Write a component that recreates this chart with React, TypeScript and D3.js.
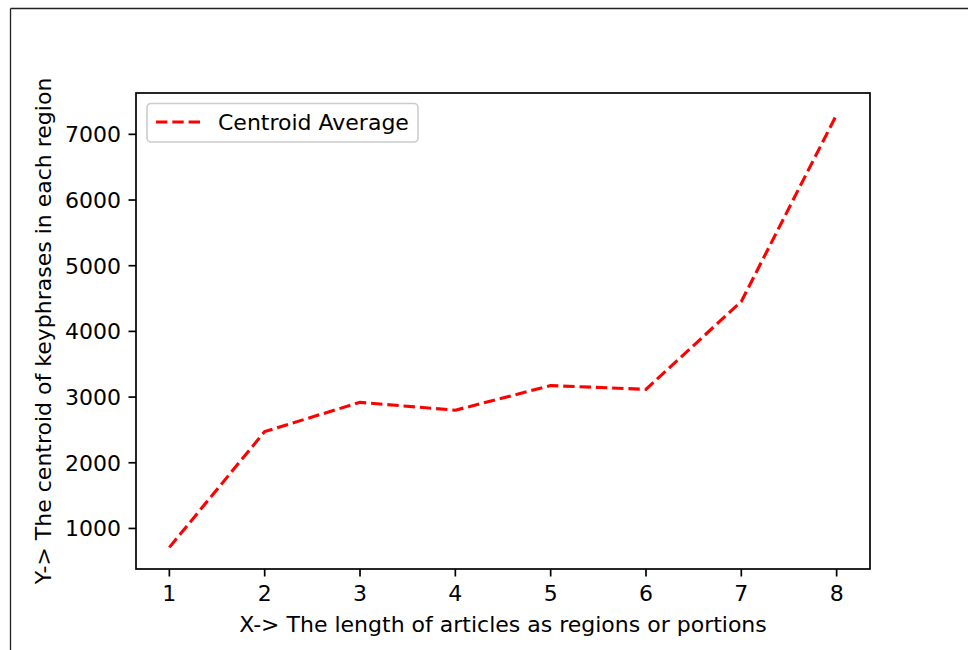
import React from "react";
import * as d3 from "d3";

// Length of articles (number of regions) and centroid averages
const regions = [1, 2, 3, 4, 5, 6, 7, 8];
const centroidAverage = [712, 2475, 2920, 2800, 3175, 3118, 4455, 7300];
const xTicks = [1, 2, 3, 4, 5, 6, 7, 8];
const yTicks = [1000, 2000, 3000, 4000, 5000, 6000, 7000];
const seriesName = "Centroid Average";
const xLabel = "X-> The length of articles as regions or portions";
const yLabel = "Y-> The centroid of keyphrases in each region";

const W = 968;
const H = 650;
const plot = { left: 136, top: 93, right: 870, bottom: 569 };
const FONT = "'DejaVu Sans', sans-serif";
const FS = 22;

export default function App() {
  const xMin = d3.min(regions)!;
  const xMax = d3.max(regions)!;
  const xPad = (xMax - xMin) * 0.05;
  const yMin = d3.min(centroidAverage)!;
  const yMax = d3.max(centroidAverage)!;
  const yPad = (yMax - yMin) * 0.05;

  const x = d3
    .scaleLinear()
    .domain([xMin - xPad, xMax + xPad])
    .range([plot.left, plot.right]);
  const y = d3
    .scaleLinear()
    .domain([yMin - yPad, yMax + yPad])
    .range([plot.bottom, plot.top]);

  const line = d3
    .line<number>()
    .x((_, i) => x(regions[i]))
    .y((d) => y(d));

  const dash = "11.4 4.9";

  return (
    <svg
      width={W}
      height={H}
      style={{ position: "absolute", left: 0, top: 0, background: "#fff" }}
      fontFamily={FONT}
    >
      {/* outer frame */}
      <line x1={10.5} y1={8.5} x2={W} y2={8.5} stroke="#222" strokeWidth={1.3} />
      <line x1={10.5} y1={8.5} x2={10.5} y2={H} stroke="#222" strokeWidth={1.3} />

      {/* data line */}
      <path
        d={line(centroidAverage) ?? ""}
        fill="none"
        stroke="#ff0000"
        strokeWidth={3.1}
        strokeDasharray={dash}
      />

      {/* spines */}
      <rect
        x={plot.left}
        y={plot.top}
        width={plot.right - plot.left}
        height={plot.bottom - plot.top}
        fill="none"
        stroke="#000"
        strokeWidth={1.7}
      />

      {/* x ticks */}
      {xTicks.map((t) => (
        <g key={`x${t}`}>
          <line
            x1={x(t)}
            x2={x(t)}
            y1={plot.bottom}
            y2={plot.bottom + 7.5}
            stroke="#000"
            strokeWidth={1.7}
          />
          <text x={x(t)} y={601} textAnchor="middle" fontSize={FS} fill="#000">
            {t}
          </text>
        </g>
      ))}

      {/* y ticks */}
      {yTicks.map((t) => (
        <g key={`y${t}`}>
          <line
            x1={plot.left - 7.5}
            x2={plot.left}
            y1={y(t)}
            y2={y(t)}
            stroke="#000"
            strokeWidth={1.7}
          />
          <text
            x={plot.left - 15}
            y={y(t)}
            dy="0.36em"
            textAnchor="end"
            fontSize={FS}
            fill="#000"
          >
            {t}
          </text>
        </g>
      ))}

      {/* axis labels */}
      <text
        x={(plot.left + plot.right) / 2}
        y={632}
        textAnchor="middle"
        fontSize={FS}
        fill="#000"
      >
        {xLabel}
      </text>
      <text
        transform={`translate(51, ${(plot.top + plot.bottom) / 2}) rotate(-90)`}
        textAnchor="middle"
        fontSize={FS}
        fill="#000"
      >
        {yLabel}
      </text>

      {/* legend */}
      <rect
        x={147}
        y={103.5}
        width={271}
        height={38.5}
        rx={4}
        fill="#fff"
        fillOpacity={0.8}
        stroke="#cccccc"
        strokeWidth={1.6}
      />
      <line
        x1={156}
        x2={200}
        y1={122}
        y2={122}
        stroke="#ff0000"
        strokeWidth={3.1}
        strokeDasharray={dash}
      />
      <text x={218} y={130} fontSize={FS} fill="#000">
        {seriesName}
      </text>
    </svg>
  );
}
